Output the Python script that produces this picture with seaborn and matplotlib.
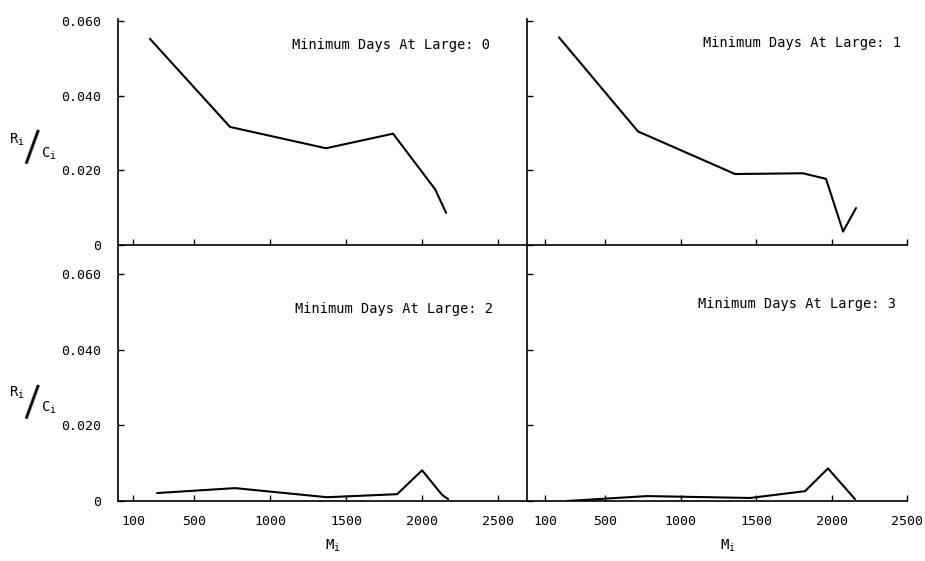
import numpy as np
import pandas as pd
import matplotlib
matplotlib.use("Agg")
import matplotlib.pyplot as plt
import seaborn as sns

# ---- data ----
m_days0 = [210, 737, 1368, 1809, 2086, 2158]
r_days0 = [0.0552, 0.0316, 0.0259, 0.0298, 0.0149, 0.0086]

m_days1 = [192, 716, 1360, 1810, 1963, 2076, 2162]
r_days1 = [0.0556, 0.0304, 0.0190, 0.0192, 0.0177, 0.0036, 0.0099]

m_days2 = [257, 770, 1375, 1836, 2000, 2132, 2171]
r_days2 = [0.0021, 0.0034, 0.0010, 0.0018, 0.0081, 0.0016, 0.0005]

m_days3 = [245, 776, 1459, 1824, 1976, 2155]
r_days3 = [0.0000, 0.0013, 0.0008, 0.0026, 0.0086, 0.0005]

x_ticks = [100, 500, 1000, 1500, 2000, 2500]
x_tick_labels = ["100", "500", "1000", "1500", "2000", "2500"]
y_ticks = [0.0, 0.02, 0.04, 0.06]
y_tick_labels = ["0", "0.020", "0.040", "0.060"]
panel_titles = ["Minimum Days At Large: 0", "Minimum Days At Large: 1",
                "Minimum Days At Large: 2", "Minimum Days At Large: 3"]

# ---- style ----
sns.set_theme(style="ticks")
plt.rcParams["font.family"] = ["DejaVu Sans Mono", "DejaVu Sans"]
plt.rcParams["mathtext.fontset"] = "dejavusans"
plt.rcParams["text.color"] = "black"

W, H = 925, 561
fig = plt.figure(figsize=(W / 100, H / 100), dpi=100)
fig.patch.set_facecolor("white")


def px_axes(l, r, t, b):
    return fig.add_axes([l / W, 1 - b / H, (r - l) / W, (b - t) / H])


ax0 = px_axes(118, 527, 19, 245)
ax1 = px_axes(527, 907, 19, 245)
ax2 = px_axes(118, 527, 245, 501)
ax3 = px_axes(527, 907, 245, 501)

series = [(ax0, m_days0, r_days0), (ax1, m_days1, r_days1),
          (ax2, m_days2, r_days2), (ax3, m_days3, r_days3)]

for i, (ax, mx, ry) in enumerate(series):
    df = pd.DataFrame({"M": mx, "R": ry})
    sns.lineplot(data=df, x="M", y="R", ax=ax, color="black",
                 linewidth=1.5, sort=False, estimator=None)
    ax.set_facecolor("none")
    for s in ["top", "right"]:
        ax.spines[s].set_visible(False)
    for s in ["left", "bottom"]:
        ax.spines[s].set_color("black")
        ax.spines[s].set_linewidth(1.2)
    ax.set_xlabel("")
    ax.set_ylabel("")
    left = i in (0, 2)
    top = i in (0, 1)
    if left:
        ax.set_xlim(0, 2690)
    else:
        ax.set_xlim(-20, 2500)
    ax.set_ylim(0, 0.0605 if top else 0.0676)
    ax.set_xticks(x_ticks)
    ax.set_yticks(y_ticks)
    ax.tick_params(axis="both", direction="in", length=4, width=1.0,
                   color="black", labelcolor="black", labelsize=9.5)
    ax.tick_params(axis="y", pad=12)
    ax.tick_params(axis="x", pad=10)
    if top:
        ax.set_xticklabels([])
    else:
        ax.set_xticklabels(x_tick_labels)
    if left:
        ax.set_yticklabels(y_tick_labels)
    else:
        ax.set_yticklabels([])


def ftext(x, y, s, **kw):
    fig.text(x / W, 1 - y / H, s, **kw)


# panel titles
ftext(292, 45, panel_titles[0], fontsize=9.8, va="center", ha="left")
ftext(703, 43, panel_titles[1], fontsize=9.8, va="center", ha="left")
ftext(295, 309, panel_titles[2], fontsize=9.8, va="center", ha="left")
ftext(698, 304, panel_titles[3], fontsize=9.8, va="center", ha="left")

# y labels  R_i / C_i
for (ry, sy, cy) in [(140, 148, 154), (393, 403, 408)]:
    ftext(9, ry, r"$\mathregular{R_i}$", fontsize=10, va="center", ha="left")
    ftext(31, sy, "|", fontsize=27, va="center", ha="center",
          family="Liberation Sans", rotation=-20, rotation_mode="anchor",
          color="black")
    ftext(41, cy, r"$\mathregular{C_i}$", fontsize=10, va="center", ha="left")

# x labels M_i
ftext(333, 546, r"$\mathregular{M_i}$", fontsize=10, va="center", ha="center")
ftext(728, 546, r"$\mathregular{M_i}$", fontsize=10, va="center", ha="center")

fig.savefig("out.png", dpi=100, facecolor="white")
